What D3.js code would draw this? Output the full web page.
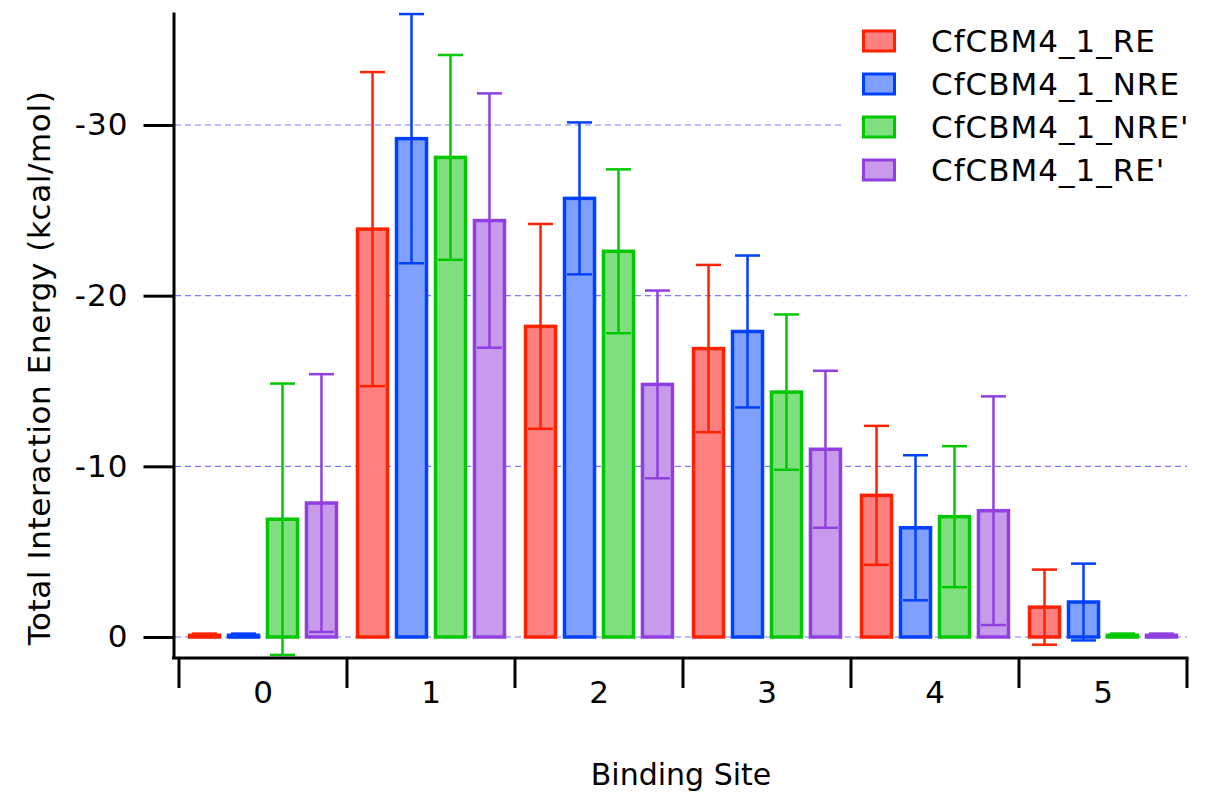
<!DOCTYPE html>
<html>
<head>
<meta charset="utf-8">
<script src="https://cdn.jsdelivr.net/npm/d3@7"></script>
<style>
  body { margin: 0; background: #fff; }
  svg { display: block; font-family: "DejaVu Sans", Verdana, sans-serif; }
</style>
</head>
<body>
<svg id="chart" width="1209" height="794"></svg>
<script>
// =========================
// DADES
// =========================
const sites = ["0", "1", "2", "3", "4", "5"];
const seriesNames = ["CfCBM4_1_RE", "CfCBM4_1_NRE", "CfCBM4_1_NRE'", "CfCBM4_1_RE'"];

const valuesRE   = [-0.1, -23.9, -18.2, -16.9, -8.3, -1.75];
const errRE      = [0.1, 9.2, 6.0, 4.9, 4.07, 2.2];
const valuesNRE  = [-0.1, -29.2, -25.7, -17.9, -6.4, -2.05];
const errNRE     = [0.1, 7.3, 4.45, 4.45, 4.25, 2.25];
const valuesNREp = [-6.9, -28.1, -22.6, -14.35, -7.05, -0.1];
const errNREp    = [7.95, 6.0, 4.8, 4.55, 4.13, 0.1];
const valuesREp  = [-7.85, -24.4, -14.8, -11.0, -7.4, -0.1];
const errREp     = [7.55, 7.45, 5.5, 4.6, 6.7, 0.1];

const yTicks = [0, -10, -20, -30];

const strokeColors = ["#ff2200", "#0040ff", "#00c800", "#9040e0"];
const fillColors   = ["#ff8080", "#80a0ff", "#80e080", "#c89aec"];

const allValues = [valuesRE, valuesNRE, valuesNREp, valuesREp];
const allErrors = [errRE, errNRE, errNREp, errREp];

const rows = [];
sites.forEach((s, i) => {
  seriesNames.forEach((name, k) => {
    rows.push({ site: s, series: name, k: k, value: allValues[k][i], err: allErrors[k][i] });
  });
});

// =========================
// ESCALES
// =========================
const svg = d3.select("#chart");

const x = d3.scaleBand().domain(sites).range([179, 1187]).padding(0);
const xInner = d3.scaleBand().domain(seriesNames)
  .range([0, x.bandwidth()])
  .paddingInner(0.23)
  .paddingOuter(0.27);

const y = d3.scaleLinear().domain([1.23, -36.62]).range([658, 12]);

// =========================
// GRAELLA
// =========================
svg.append("g")
  .selectAll("line")
  .data(yTicks)
  .enter()
  .append("line")
  .attr("x1", 175)
  .attr("x2", 1187)
  .attr("y1", d => y(d))
  .attr("y2", d => y(d))
  .attr("stroke", "#7a7aff")
  .attr("stroke-width", 1.2)
  .attr("stroke-dasharray", "6,4");

// =========================
// BARRES
// =========================
const bars = svg.append("g");

bars.selectAll("rect")
  .data(rows)
  .enter()
  .append("rect")
  .attr("x", d => x(d.site) + xInner(d.series))
  .attr("width", xInner.bandwidth())
  .attr("y", d => Math.min(y(d.value), y(0)))
  .attr("height", d => Math.abs(y(d.value) - y(0)))
  .attr("fill", d => fillColors[d.k])
  .attr("stroke", d => strokeColors[d.k])
  .attr("stroke-width", 3.5);

// barres d'error
const capW = 25;
const errG = svg.append("g");
const eb = errG.selectAll("g")
  .data(rows)
  .enter()
  .append("g")
  .attr("stroke", d => strokeColors[d.k])
  .attr("stroke-width", 2.5);

const cx = d => x(d.site) + xInner(d.series) + xInner.bandwidth() / 2;

eb.append("line")
  .attr("x1", cx).attr("x2", cx)
  .attr("y1", d => y(d.value - d.err))
  .attr("y2", d => y(d.value + d.err));

eb.append("line")
  .attr("x1", d => cx(d) - capW / 2).attr("x2", d => cx(d) + capW / 2)
  .attr("y1", d => y(d.value - d.err))
  .attr("y2", d => y(d.value - d.err));

eb.append("line")
  .attr("x1", d => cx(d) - capW / 2).attr("x2", d => cx(d) + capW / 2)
  .attr("y1", d => y(d.value + d.err))
  .attr("y2", d => y(d.value + d.err));

// =========================
// EIXOS
// =========================
const yAxis = svg.append("g")
  .attr("transform", "translate(173.5,0)")
  .call(d3.axisLeft(y)
    .tickValues(yTicks)
    .tickFormat(d => String(d))
    .tickSize(30)
    .tickSizeOuter(0)
    .tickPadding(15));

yAxis.select(".domain").attr("stroke", "#000").attr("stroke-width", 3);
yAxis.selectAll(".tick line").attr("stroke", "#000").attr("stroke-width", 3);
yAxis.selectAll(".tick text")
  .attr("fill", "#000")
  .style("font-size", "31px")
  .style("letter-spacing", "1px")
  .style("font-family", "'DejaVu Sans', sans-serif");

// eix x: línia + separadors
svg.append("line")
  .attr("x1", 172).attr("x2", 1188.5)
  .attr("y1", 658).attr("y2", 658)
  .attr("stroke", "#000").attr("stroke-width", 3);

const boundaries = sites.map(s => x(s)).concat([x.range()[1]]);
svg.append("g")
  .selectAll("line")
  .data(boundaries)
  .enter()
  .append("line")
  .attr("x1", d => d).attr("x2", d => d)
  .attr("y1", 658).attr("y2", 688)
  .attr("stroke", "#000").attr("stroke-width", 3);

const xAxis = svg.append("g")
  .attr("transform", "translate(0,658)")
  .call(d3.axisBottom(x).tickSize(0).tickPadding(23));
xAxis.select(".domain").remove();
xAxis.selectAll(".tick text")
  .attr("fill", "#000")
  .style("font-size", "31px")
  .style("font-family", "'DejaVu Sans', sans-serif");

// títols
svg.append("text")
  .attr("x", 681)
  .attr("y", 785)
  .attr("text-anchor", "middle")
  .text("Binding Site")
  .style("font-size", "30px");

svg.append("text")
  .attr("transform", "translate(50,368) rotate(-90)")
  .attr("text-anchor", "middle")
  .text("Total Interaction Energy (kcal/mol)")
  .style("font-size", "31px")
  .style("letter-spacing", "0.6px");

// =========================
// LLEGENDA
// =========================
const legend = svg.append("g").attr("transform", "translate(845,18)");

legend.append("rect")
  .attr("width", 350)
  .attr("height", 177)
  .attr("fill", "#fff");

const items = legend.selectAll(".item")
  .data(seriesNames)
  .enter()
  .append("g")
  .attr("class", "item")
  .attr("transform", (d, i) => `translate(0, ${23 + i * 43})`);

items.append("rect")
  .attr("x", 18.5)
  .attr("y", -10)
  .attr("width", 31)
  .attr("height", 20)
  .attr("fill", (d, i) => fillColors[i])
  .attr("stroke", (d, i) => strokeColors[i])
  .attr("stroke-width", 3);

items.append("text")
  .attr("x", 86)
  .attr("y", 11)
  .text(d => d)
  .style("font-size", "31px")
  .style("letter-spacing", "1px");
</script>
</body>
</html>
